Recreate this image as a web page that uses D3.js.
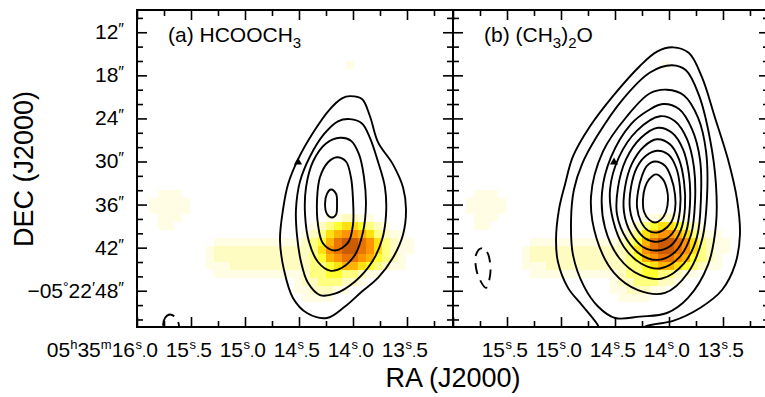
<!DOCTYPE html>
<html>
<head>
<meta charset="utf-8">
<script src="https://cdn.jsdelivr.net/npm/d3@7"></script>
<style>
  body { margin: 0; background: #fff; }
  text { font-family: "Liberation Sans", "DejaVu Sans", sans-serif; fill: #000; }
</style>
</head>
<body>
<svg id="chart" width="765" height="397"></svg>
<script>
// axis ticks (RA in seconds of 05h35m, Dec in arcsec of -05d22m)
const raMajor = [16.0, 15.5, 15.0, 14.5, 14.0, 13.5];
const raMinor = [15.75, 15.25, 14.75, 14.25, 13.75, 13.25];
const decMajor = [12, 18, 24, 30, 36, 42, 48];
const decMinor = [10, 14, 16, 20, 22, 26, 28, 32, 34, 38, 40, 44, 46, 50, 52];

// continuum image (colour), 0-9 intensity per pixel
const imgRA0 = 15.880, imgDec0 = 33.9, pixRA = 0.0741, pixDec = 1.116;
const imgRows = [
  "011100000000000000000000000000000",
  "111110000000000000000000000000000",
  "111110000000000000000000000000000",
  "011100000000000000000011221100000",
  "011000000000000000001234554321000",
  "000000000000000000012356776532110",
  "000000001111111111123468998753211",
  "000000012222222222223578998753211",
  "000000012222222222223467887643210",
  "000000011122222222223345665432110",
  "000000001111111111123344332110000",
  "000000000000000000122333221000000",
  "000000000000000000112221100000000",
  "000000000000000000011110000000000"
];
const faintCells = [[14.03, 16.5, 1]];

// contours, [RA s, Dec "]
const hcoochContours = [
  [[14.028,20.9],[13.917,21.3],[13.843,23.7],[13.769,27.3],[13.630,30.4],[13.537,33.6],[13.509,36.7],[13.537,40.2],[13.630,43.4],[13.769,46.2],[13.917,48.1],[14.074,50.2],[14.241,51.8],[14.426,51.1],[14.556,49.0],[14.639,45.1],[14.676,40.9],[14.648,36.7],[14.602,33.2],[14.509,29.7],[14.370,26.0],[14.213,22.7],[14.102,21.2]],
  [[14.028,24.1],[13.917,24.7],[13.843,26.7],[13.769,30.0],[13.704,33.6],[13.694,37.4],[13.731,40.9],[13.824,44.0],[13.981,46.7],[14.167,48.4],[14.306,48.6],[14.417,46.9],[14.481,44.0],[14.519,40.2],[14.528,36.7],[14.491,32.8],[14.398,29.3],[14.269,26.2],[14.139,24.4]],
  [[14.120,26.7],[14.019,27.1],[13.944,29.0],[13.898,32.2],[13.880,36.0],[13.907,39.8],[13.981,43.0],[14.102,44.8],[14.213,45.2],[14.324,44.0],[14.407,41.2],[14.444,37.4],[14.435,33.6],[14.370,30.0],[14.250,27.5]],
  [[14.148,29.4],[14.065,30.0],[14.019,32.2],[14.000,35.3],[14.000,38.8],[14.046,41.3],[14.167,42.4],[14.278,41.4],[14.324,38.8],[14.333,35.3],[14.306,32.2],[14.231,30.1]],
  [[14.204,33.9],[14.157,34.5],[14.148,36.0],[14.157,37.4],[14.194,37.8],[14.241,37.3],[14.259,35.9],[14.241,34.5]]
];
const hcoochNegContours = [
  [[15.759,53.0],[15.741,51.8],[15.694,51.3],[15.639,51.8],[15.611,53.0],[15.650,54.3],[15.740,54.3]]
];
const dmeContours = [
  [[13.963,14.1],[13.815,14.9],[13.694,18.3],[13.574,23.9],[13.454,29.7],[13.370,35.3],[13.343,40.2],[13.389,44.4],[13.509,47.9],[13.713,50.4],[13.963,52.2],[14.222,53.0],[14.380,54.8],[14.583,54.8],[14.667,52.6],[14.806,50.0],[14.935,47.6],[15.028,44.0],[15.046,40.9],[15.019,36.7],[14.963,33.2],[14.889,29.3],[14.731,25.1],[14.519,20.9],[14.269,16.7],[14.111,14.7]],
  [[13.972,16.6],[13.843,17.3],[13.722,20.8],[13.620,26.9],[13.565,33.2],[13.565,38.8],[13.639,44.4],[13.824,49.0],[14.019,51.1],[14.269,51.6],[14.500,51.8],[14.657,50.2],[14.787,47.4],[14.889,43.0],[14.907,38.1],[14.880,33.9],[14.806,30.4],[14.667,26.5],[14.426,21.3],[14.176,17.6]],
  [[14.019,20.0],[13.861,20.8],[13.731,23.9],[13.657,28.6],[13.648,35.0],[13.694,40.9],[13.824,45.5],[14.037,48.3],[14.287,47.9],[14.509,45.5],[14.667,40.9],[14.722,34.9],[14.611,28.6],[14.389,23.7],[14.176,20.5]],
  [[14.056,22.0],[13.907,22.7],[13.787,25.5],[13.713,29.7],[13.704,35.0],[13.741,40.5],[13.861,44.2],[14.065,46.3],[14.269,45.8],[14.463,43.4],[14.593,39.2],[14.620,34.3],[14.537,29.4],[14.352,24.8],[14.194,22.9]],
  [[14.083,23.7],[13.944,24.4],[13.833,26.9],[13.769,30.8],[13.759,35.6],[13.796,40.2],[13.907,43.4],[14.083,44.9],[14.259,44.2],[14.417,41.9],[14.519,38.1],[14.546,33.9],[14.463,29.4],[14.296,25.7]],
  [[14.102,25.3],[13.972,26.0],[13.870,28.3],[13.815,31.8],[13.806,36.0],[13.843,39.9],[13.944,42.6],[14.102,43.7],[14.259,43.0],[14.389,40.9],[14.481,37.4],[14.472,33.6],[14.398,29.7],[14.259,26.7]],
  [[14.111,26.9],[13.991,27.6],[13.907,29.7],[13.861,32.8],[13.852,36.4],[13.889,39.5],[13.981,41.7],[14.111,42.4],[14.241,41.9],[14.352,40.0],[14.417,37.0],[14.407,33.6],[14.343,30.3],[14.231,27.9]],
  [[14.111,28.5],[14.009,29.0],[13.935,30.8],[13.898,33.6],[13.898,36.7],[13.935,39.2],[14.019,40.7],[14.120,41.2],[14.222,40.7],[14.306,39.2],[14.361,36.7],[14.352,33.6],[14.296,30.8],[14.213,29.2]],
  [[14.130,30.0],[14.037,30.6],[13.981,32.2],[13.944,34.6],[13.944,36.7],[13.981,38.5],[14.056,39.6],[14.120,39.9],[14.194,39.6],[14.259,38.4],[14.296,36.4],[14.287,34.2],[14.250,32.0],[14.204,30.6]],
  [[14.120,31.8],[14.056,32.5],[14.019,33.9],[14.009,35.3],[14.028,37.0],[14.074,38.1],[14.130,38.5],[14.185,38.1],[14.231,37.0],[14.241,35.3],[14.222,33.6],[14.185,32.5]]
];
const dmeNegContours = [
  [[15.741,42.1],[15.685,42.6],[15.657,44.0],[15.657,45.9],[15.694,47.6],[15.750,46.5],[15.787,44.8],[15.787,43.0]]
];
const markers = [[14.509, 30.1]];

const panels = [
  { left: 137, name: "(a) HCOOCH", tail: [["3", true]], contours: hcoochContours, neg: hcoochNegContours },
  { left: 453, name: "(b) (CH", tail: [["3", true], [")", false], ["2", true], ["O", false]], contours: dmeContours, neg: dmeNegContours }
];

const W = 316, H = 317, TOP = 10;
const x = d3.scaleLinear().domain([16.0, 13.074]).range([0, W]);
const y = d3.scaleLinear().domain([8.9, 53.05]).range([0, H]);
const colour = d3.scaleLinear()
  .domain([0, 1, 2, 3, 4, 5, 6, 7, 8, 9])
  .range(["#ffffff", "#fffee4", "#fffcc2", "#ffff80", "#ffff30", "#ffe010", "#ffb400", "#ff9400", "#ea7400", "#cc5c00"]);

const svg = d3.select("#chart");
const line = d3.line().x(d => x(d[0])).y(d => y(d[1])).curve(d3.curveCatmullRomClosed.alpha(0.5));

// flatten the image into cells
const cells = [];
imgRows.forEach((row, r) => {
  row.split("").forEach((ch, c) => {
    const v = +ch;
    if (v > 0) cells.push({ ra: imgRA0 - c * pixRA, dec: imgDec0 + r * pixDec, v });
  });
});
faintCells.forEach(d => cells.push({ ra: d[0] + pixRA / 2, dec: d[1] - pixDec / 2, v: d[2] }));

panels.forEach((p, i) => {
  const g = svg.append("g").attr("transform", `translate(${p.left},${TOP})`);
  g.append("clipPath").attr("id", "clip" + i)
    .append("rect").attr("width", W).attr("height", H);
  const body = g.append("g").attr("clip-path", `url(#clip${i})`);

  body.selectAll("rect.px").data(cells).join("rect")
    .attr("class", "px")
    .attr("x", d => x(d.ra))
    .attr("y", d => y(d.dec))
    .attr("width", d => x(d.ra - pixRA) - x(d.ra) + 0.4)
    .attr("height", d => y(d.dec + pixDec) - y(d.dec) + 0.4)
    .attr("fill", d => colour(d.v))
    .attr("shape-rendering", "crispEdges");

  body.selectAll("path.pos").data(p.contours).join("path")
    .attr("class", "pos")
    .attr("d", line)
    .attr("fill", "none").attr("stroke", "#000").attr("stroke-width", 1.9);

  body.selectAll("path.neg").data(p.neg).join("path")
    .attr("class", "neg")
    .attr("d", line)
    .attr("fill", "none").attr("stroke", "#000").attr("stroke-width", 1.9)
    .attr("stroke-dasharray", "11,7");

  body.selectAll("path.mk").data(markers).join("path")
    .attr("class", "mk")
    .attr("d", d3.symbol().type(d3.symbolTriangle).size(28))
    .attr("transform", d => `translate(${x(d[0])},${y(d[1])})`)
    .attr("fill", "#000");

  // ticks, pointing into the panel
  const tickStyle = sel => sel.call(s => s.select(".domain").remove())
    .selectAll("line").attr("stroke", "#000").attr("stroke-width", 1.6);
  [[raMajor, 10], [raMinor, 6]].forEach(([vals, len]) => {
    g.append("g").attr("transform", `translate(0,${H})`)
      .call(d3.axisBottom(x).tickValues(vals).tickSize(-len).tickSizeOuter(0).tickFormat(""))
      .call(tickStyle);
    g.append("g")
      .call(d3.axisTop(x).tickValues(vals).tickSize(-len).tickSizeOuter(0).tickFormat(""))
      .call(tickStyle);
  });
  [[decMajor, 10], [decMinor, 6]].forEach(([vals, len]) => {
    g.append("g")
      .call(d3.axisLeft(y).tickValues(vals).tickSize(-len).tickSizeOuter(0).tickFormat(""))
      .call(tickStyle);
    g.append("g").attr("transform", `translate(${W},0)`)
      .call(d3.axisRight(y).tickValues(vals).tickSize(-len).tickSizeOuter(0).tickFormat(""))
      .call(tickStyle);
  });

  g.append("rect").attr("width", W).attr("height", H)
    .attr("fill", "none").attr("stroke", "#000").attr("stroke-width", 2);

  // panel title with subscripts
  const t = g.append("text").attr("x", 31).attr("y", 32).attr("font-size", 21).text(p.name);
  let down = false;
  p.tail.forEach(([s, sub]) => {
    const ts = t.append("tspan").text(s);
    if (sub && !down) { ts.attr("dy", 6).attr("font-size", 15); down = true; }
    else if (sub) ts.attr("font-size", 15);
    else if (down) { ts.attr("dy", -6); down = false; }
  });

  // RA tick labels: one text per tick, parts placed in sequence
  raMajor.forEach((v, k) => {
    if (i === 1 && k === 0) return;
    const tx = x(v);
    const ip = Math.floor(v + 1e-6), fp = Math.round((v - ip) * 10);
    const lab = g.append("text").attr("y", 347).attr("font-size", 21);
    const head = lab.append("tspan").attr("x", tx - 2).attr("text-anchor", "end");
    if (i === 0 && k === 0) {
      head.text("05");
      lab.append("tspan").attr("dy", -8).attr("font-size", 13).text("h");
      lab.append("tspan").attr("dy", 8).text("35");
      lab.append("tspan").attr("dy", -8).attr("font-size", 13).text("m");
      lab.append("tspan").attr("dy", 8).text(String(ip));
    } else {
      head.text(String(ip));
    }
    lab.append("tspan").attr("x", tx - 1.5).attr("dy", -8).attr("font-size", 13)
      .attr("text-anchor", "start").text("s");
    lab.append("tspan").attr("dy", 8).attr("font-size", 15).text(".");
    lab.append("tspan").text(String(fp));
  });
});

// Dec tick labels (left panel only)
const gl = svg.append("g").attr("transform", `translate(137,${TOP})`);
decMajor.forEach((v, k) => {
  const lab = gl.append("text").attr("x", -13).attr("y", y(v) + 7).attr("font-size", 21)
    .attr("text-anchor", "end");
  if (k === decMajor.length - 1) {
    lab.append("tspan").text("\u221205");
    lab.append("tspan").attr("font-size", 14).attr("dy", -6).text("\u00b0");
    lab.append("tspan").attr("dy", 6).text("22");
    lab.append("tspan").attr("font-size", 16).attr("dy", -4).text("\u2032");
    lab.append("tspan").attr("dy", 4).text(String(v));
  } else {
    lab.append("tspan").text(String(v));
  }
  lab.append("tspan").attr("font-size", 16).attr("dy", -4).text("\u2033");
});

// axis titles
svg.append("text").attr("x", 453).attr("y", 387).attr("font-size", 27)
  .attr("text-anchor", "middle").text("RA (J2000)");
svg.append("text").attr("transform", "translate(33,169) rotate(-90)").attr("font-size", 27)
  .attr("text-anchor", "middle").text("DEC (J2000)");
</script>
</body>
</html>
